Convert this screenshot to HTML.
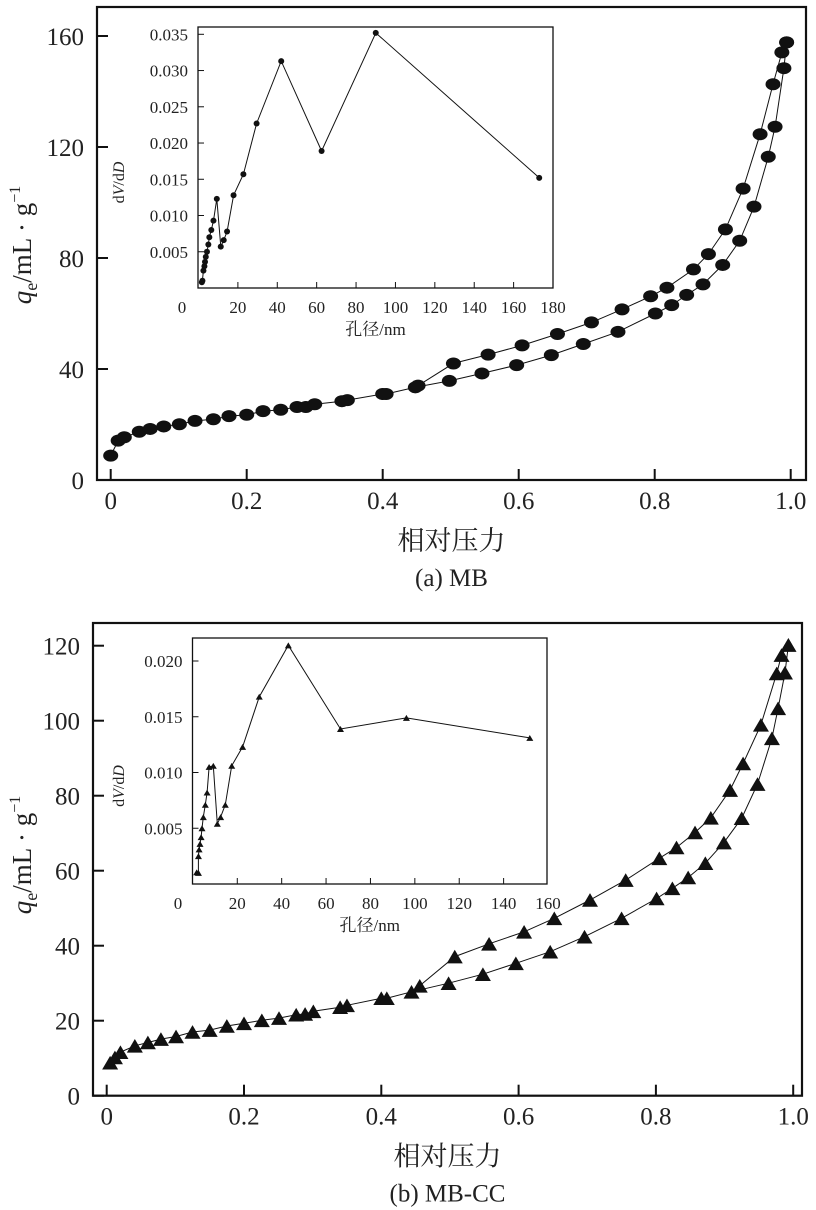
<!DOCTYPE html>
<html><head><meta charset="utf-8">
<style>
html,body{margin:0;padding:0;background:#fff;}
svg{display:block;}
svg text{font-family:"Liberation Serif","Noto Serif CJK SC",serif;}
</style></head>
<body>
<svg id="fig" width="816" height="1210" viewBox="0 0 816 1210" xmlns="http://www.w3.org/2000/svg" font-family="'Liberation Serif','Noto Serif CJK SC',serif"></svg>
<script>
// ---- Chart (a) MB main isotherm ----
const aAdsP = [0,0.011,0.02,0.042,0.058,0.078,0.101,0.124,0.151,0.174,0.2,0.224,0.25,0.274,0.287,0.3,0.34,0.348,0.4,0.405,0.448,0.498,0.546,0.597,0.648,0.695,0.746,0.801,0.825,0.847,0.871,0.9,0.925,0.946,0.967,0.977,0.99,0.994];
const aAdsQ = [8.8,14.2,15.4,17.4,18.4,19.3,20.1,21.3,21.9,23,23.5,24.8,25.3,26.3,26.3,27.3,28.4,28.8,31,31,33.4,35.7,38.4,41.4,45,49,53.4,60,63,66.7,70.5,77.5,86.2,98.5,116.5,127.3,148.4,157.7];
const aDesP = [0.452,0.504,0.555,0.605,0.657,0.707,0.752,0.794,0.818,0.857,0.879,0.904,0.93,0.955,0.974,0.987,0.994];
const aDesQ = [34,42,45.2,48.5,52.6,56.8,61.5,66.2,69.3,75.9,81.4,90.3,105,124.6,142.6,154.1,157.7];
// ---- Chart (a) inset pore size distribution ----
const aPoreD = [1.7,2,2.5,3,3.3,3.7,4.3,5,5.5,6.5,7.6,9.3,11.3,12.8,14.5,17.8,22.8,29.5,42,62.5,90,173];
const aPoreV = [0.0008,0.001,0.0024,0.003,0.0036,0.0043,0.005,0.006,0.007,0.008,0.0093,0.0123,0.0057,0.0066,0.0078,0.0128,0.0157,0.0227,0.0313,0.0189,0.0352,0.0152];
// ---- Chart (b) MB-CC main isotherm ----
const bAdsP = [0.005,0.012,0.02,0.041,0.06,0.079,0.101,0.125,0.15,0.175,0.2,0.226,0.251,0.276,0.289,0.301,0.34,0.35,0.4,0.408,0.444,0.498,0.548,0.596,0.646,0.696,0.75,0.801,0.824,0.847,0.872,0.899,0.925,0.948,0.969,0.978,0.988,0.993];
const bAdsQ = [8.8,10.2,11.6,13.3,14.2,15.1,15.8,17,17.5,18.6,19.3,20.1,20.7,21.6,21.8,22.5,23.6,24.1,26,26,27.7,30,32.4,35.3,38.4,42.4,47.3,52.6,55.3,58.2,62,67.5,74,83.1,95.3,103.3,112.8,120.2];
const bDesP = [0.456,0.507,0.557,0.608,0.652,0.704,0.756,0.805,0.83,0.857,0.88,0.908,0.927,0.953,0.976,0.983,0.993];
const bDesQ = [29.3,37.1,40.5,43.7,47.3,52.2,57.5,63.3,66.2,70.2,74.1,81.5,88.6,98.9,112.6,117.5,120.2];
// ---- Chart (b) inset ----
const bPoreD = [1.7,2.5,2.5,2.8,3.2,3.7,4.1,4.7,5.6,6.4,7.3,9.2,11,12.5,14.6,17.5,22.4,29.9,43,66.5,96.2,151.8];
const bPoreV = [0.00105,0.001,0.0025,0.0031,0.0036,0.0042,0.005,0.006,0.0071,0.0082,0.0105,0.0106,0.0054,0.006,0.0071,0.0106,0.0123,0.0168,0.0214,0.0139,0.0149,0.0131];
// ---- tick labels ----
const mainXTicks = [0,0.2,0.4,0.6,0.8,1.0];
const mainXLabels = ["0","0.2","0.4","0.6","0.8","1.0"];
const aYTicks = [0,40,80,120,160];
const bYTicks = [0,20,40,60,80,100,120];
const aInsetXTicks = [0,20,40,60,80,100,120,140,160,180];
const bInsetXTicks = [0,20,40,60,80,100,120,140,160];
const aInsetYTicks = [0.005,0.010,0.015,0.020,0.025,0.030,0.035];
const bInsetYTicks = [0.005,0.010,0.015,0.020];

const NS = "http://www.w3.org/2000/svg";
const FONT = "'Liberation Serif','Noto Serif CJK SC',serif";
const svg = document.getElementById('fig');
function mk(tag, attrs, parent){
  const e = document.createElementNS(NS, tag);
  for (const k in attrs) e.setAttribute(k, attrs[k]);
  (parent||svg).appendChild(e);
  return e;
}
function txt(s, x, y, size, anchor, parent, name){
  const t = mk('text', {x:x, y:y, 'font-size':size, 'text-anchor':anchor||'middle', fill:'#222', 'font-family':FONT}, parent);
  t.textContent = s;
  
  
  return t;
}
function lin(d0,d1,r0,r1){ return v => r0 + (v-d0)*(r1-r0)/(d1-d0); }

function ellipse(g,x,y,rx,ry){
  const e = mk('ellipse',{cx:x,cy:y,rx:rx,ry:ry,fill:'#111'},g);
  
  
}
function tri(g,x,y,s){
  const h = s*0.85;
  const p = mk('polygon',{points:`${x-s/2},${y+h/2} ${x+s/2},${y+h/2} ${x},${y-h/2}`,fill:'#111'},g);
  
  
}
function series(g, xs, ys, sx, sy, marker, ms, lw, name){
  const sg = mk('g',{},g);
  
  
  let d = '';
  xs.forEach((v,i)=>{ d += (i?'L':'M') + sx(v).toFixed(1) + ' ' + sy(ys[i]).toFixed(1); });
  const l = mk('path',{d:d,fill:'none',stroke:'#111','stroke-width':lw},sg);
  
  
  xs.forEach((v,i)=>{
    if (marker==='ell') ellipse(sg, sx(v), sy(ys[i]), ms[0], ms[1]);
    else tri(sg, sx(v), sy(ys[i]), ms);
  });
}

function mainChart(o){
  const g = mk('g',{});
  
  
  const sx = lin(0,1,o.x0,o.x1), sy = lin(0,o.ymax,o.yb,o.ytop);
  const f = mk('rect',{x:o.L,y:o.T,width:o.R-o.L,height:o.yb-o.T,fill:'none',stroke:'#111','stroke-width':2.2},g);
   
  mainXTicks.forEach((t,i)=>{
    mk('line',{x1:sx(t),x2:sx(t),y1:o.yb,y2:o.yb-11,stroke:'#111','stroke-width':2},g);
    txt(mainXLabels[i], sx(t), o.yb+29, 25, 'middle', g, 'x-tick-label');
  });
  o.yTicks.forEach(t=>{
    mk('line',{x1:o.L,x2:o.L+11,y1:sy(t),y2:sy(t),stroke:'#111','stroke-width':2},g);
    txt(String(t), o.L-13, sy(t)+9, 25, 'end', g, 'y-tick-label');
  });
  txt('相对压力', (o.L+o.R)/2, o.yb+70, 27, 'middle', g, 'x-axis-title');
  txt(o.caption, (o.L+o.R)/2, o.yb+106, 25, 'middle', g, 'figure-caption');
  const yt = mk('text',{x:0,y:0,'font-size':27,'text-anchor':'middle',fill:'#222','font-family':FONT,transform:`translate(31,${o.ytc}) rotate(-90)`},g);
   
  yt.innerHTML = '<tspan font-style="italic">q</tspan><tspan font-size="18" dy="6">e</tspan><tspan dy="-6">/mL · g</tspan><tspan font-size="16" dy="-11">−1</tspan>';
  return {g,sx,sy};
}

function inset(o){
  const g = mk('g',{});
  
  
  const sx = lin(0,o.xmax,o.x0,o.x1), sy = lin(0,o.ymax,o.yb,o.ytop);
  mk('rect',{x:o.L,y:o.T,width:o.R-o.L,height:o.yb-o.T,fill:'#fff',stroke:'#111','stroke-width':1.3},g);
  o.xTicks.forEach(t=>{
    if (t>0 && t<o.xmax) mk('line',{x1:sx(t),x2:sx(t),y1:o.yb,y2:o.yb-6,stroke:'#111','stroke-width':1},g);
    txt(String(t), t===0 ? o.zeroX : sx(t), o.yb+25, 17, 'middle', g, 'inset-x-tick-label');
  });
  o.yTicks.forEach(t=>{
    mk('line',{x1:o.L,x2:o.L+6,y1:sy(t),y2:sy(t),stroke:'#111','stroke-width':1},g);
    txt(t.toFixed(3), o.L-10, sy(t)+6, 17, 'end', g, 'inset-y-tick-label');
  });
  txt('孔径/nm', (o.L+o.R)/2, o.yb+47, 17, 'middle', g, 'inset-x-axis-title');
  const yt = mk('text',{x:0,y:0,'font-size':16,'text-anchor':'middle',fill:'#222','font-family':FONT,transform:`translate(124,${(o.T+o.yb)/2+25}) rotate(-90)`},g);
   
  yt.innerHTML = 'd<tspan font-style="italic">V</tspan>/d<tspan font-style="italic">D</tspan>';
  return {g,sx,sy};
}

// Chart (a)
const A = mainChart({name:'chart-a-mb',L:97,R:806,T:7,yb:480,x0:110.7,x1:790.7,ymax:160,ytop:36,yTicks:aYTicks,caption:'(a) MB',ytc:245});
series(A.g, aAdsP, aAdsQ, A.sx, A.sy, 'ell', [7.5,6], 1, 'adsorption-series-a');
series(A.g, aDesP, aDesQ, A.sx, A.sy, 'ell', [7.5,6], 1, 'desorption-series-a');
const AI = inset({name:'inset-a-pore-distribution',L:198,R:553,T:27,yb:288,x0:198.5,x1:553,xmax:180,ymax:0.035,ytop:34.3,xTicks:aInsetXTicks,yTicks:aInsetYTicks,zeroX:182});
series(AI.g, aPoreD, aPoreV, AI.sx, AI.sy, 'ell', [3,3], 1, 'pore-series-a');

// Chart (b)
const B = mainChart({name:'chart-b-mbcc',L:93,R:802,T:623,yb:1095.7,x0:106.7,x1:793.2,ymax:120,ytop:645.7,yTicks:bYTicks,caption:'(b) MB-CC',ytc:855});
series(B.g, bAdsP, bAdsQ, B.sx, B.sy, 'tri', 16, 1, 'adsorption-series-b');
series(B.g, bDesP, bDesQ, B.sx, B.sy, 'tri', 16, 1, 'desorption-series-b');
const BI = inset({name:'inset-b-pore-distribution',L:192.5,R:547,T:638,yb:884,x0:192.9,x1:548,xmax:160,ymax:0.020,ytop:661,xTicks:bInsetXTicks,yTicks:bInsetYTicks,zeroX:178});
series(BI.g, bPoreD, bPoreV, BI.sx, BI.sy, 'tri', 7, 1, 'pore-series-b');
</script>
</body></html>
